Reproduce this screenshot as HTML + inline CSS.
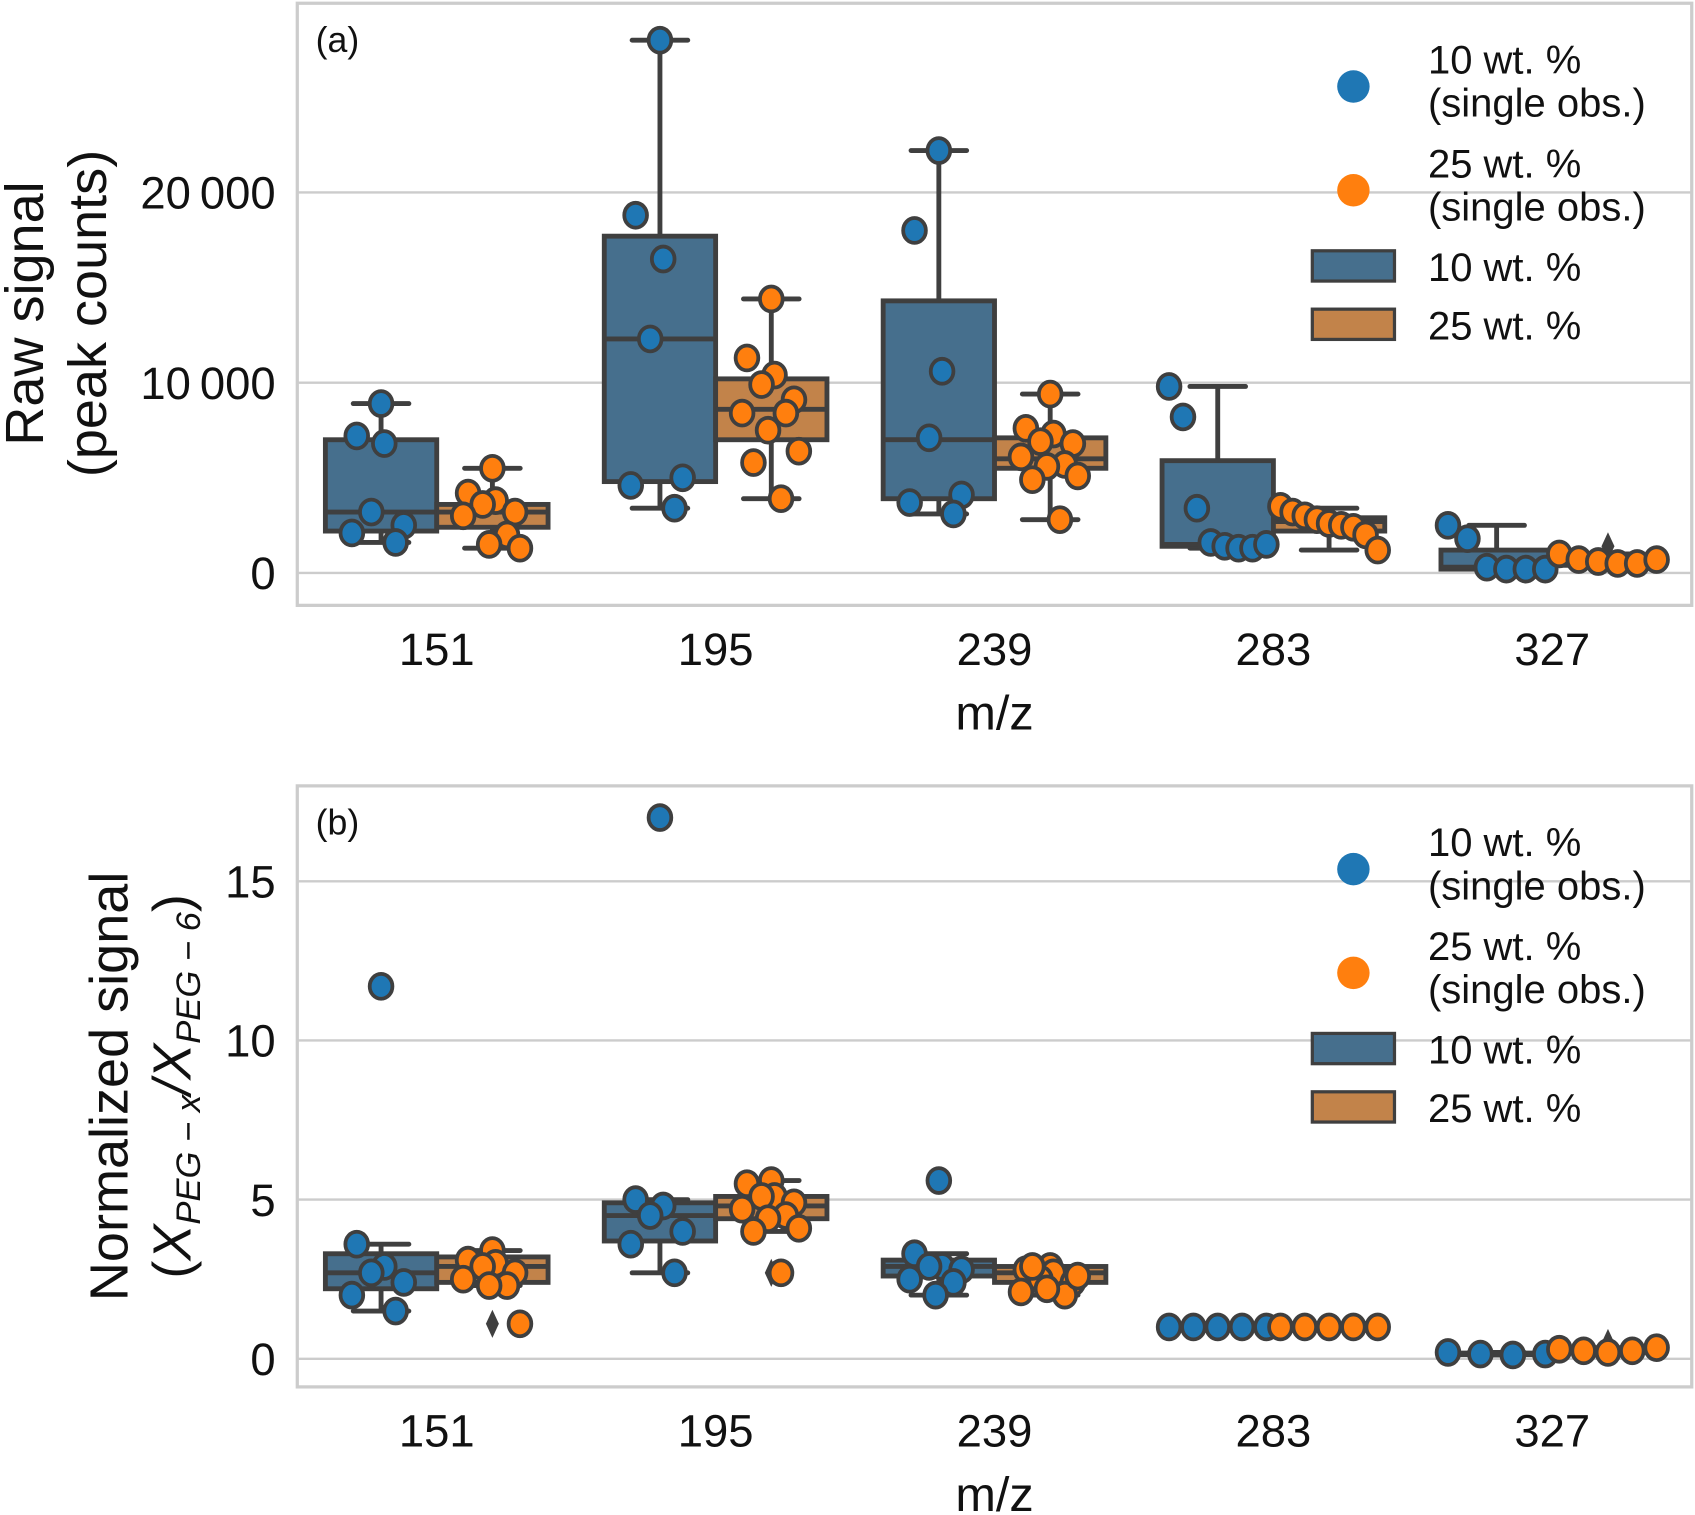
<!DOCTYPE html>
<html><head><meta charset="utf-8"><style>
html,body{margin:0;padding:0;background:#fff;}
svg{display:block;font-family:"Liberation Sans",Arial,sans-serif;}
</style></head><body>
<svg id="fig" width="1695" height="1515" viewBox="0 0 1568 1401.5" xmlns="http://www.w3.org/2000/svg"></svg>
<script>
// ---------- data ----------
const categories = ["151","195","239","283","327"];
// panel (a) raw signal, single observations
const rawBlue = [
  [8900,7200,6800,3200,2500,2100,1600],
  [28000,18800,16500,12300,5000,4600,3400],
  [22200,18000,10600,7100,4100,3700,3100],
  [9800,8200,3400,1600,1400,1300,1300,1500],
  [2500,1800,300,200,200,200]
];
const rawOrange = [
  [5500,4200,3800,3600,3200,3000,2000,1500,1300],
  [14400,11300,10400,9900,9100,8400,8400,7500,6400,5800,3900],
  [9400,7600,7300,6900,6800,6100,5700,5600,5100,4900,2800],
  [3500,3200,3000,2800,2600,2500,2400,2000,1200],
  [1000,700,600,500,500,700]
];
// box stats [whiskerLow, q1, median, q3, whiskerHigh]
const rawBoxBlue = [[1600,2200,3200,7000,8900],[3400,4800,12300,17700,28000],[3100,3900,7000,14300,22200],[1300,1400,1500,5900,9800],[200,200,300,1200,2500]];
const rawBoxOrange = [[1300,2400,3200,3600,5500],[3900,7000,8600,10200,14400],[2800,5500,6000,7100,9400],[1200,2200,2700,2900,3400],[400,400,600,800,1000]];
const rawFlierOrange = [[],[],[],[],[1400]];
const rawTicks = [0,10000,20000];
const rawTickLabels = ["0","10\u2009000","20\u2009000"];

// panel (b) normalized signal
const normBlue = [
  [11.7,3.6,2.9,2.7,2.4,2.0,1.5],
  [17.0,5.0,4.8,4.5,4.0,3.6,2.7],
  [5.6,3.3,2.9,2.9,2.8,2.5,2.4,2.0],
  [1,1,1,1,1],
  [0.2,0.15,0.12,0.15]
];
const normOrange = [
  [3.4,3.1,3.0,2.9,2.7,2.5,2.3,2.3,1.1],
  [5.6,5.5,5.1,5.1,4.9,4.7,4.5,4.4,4.1,4.0,2.7],
  [2.9,2.8,2.7,2.5,2.4,2.1,2.0,2.2,2.6,2.9],
  [1,1,1,1,1],
  [0.3,0.25,0.2,0.25,0.35]
];
const normBoxBlue = [[1.5,2.2,2.7,3.3,3.6],[2.7,3.7,4.5,4.9,5.0],[2.0,2.6,2.9,3.1,3.3],[1,1,1,1,1],[0.12,0.13,0.15,0.18,0.2]];
const normBoxOrange = [[2.3,2.4,2.9,3.2,3.4],[4.0,4.4,4.8,5.1,5.6],[2.0,2.4,2.7,2.9,2.9],[1,1,1,1,1],[0.2,0.2,0.25,0.3,0.35]];
const normFlierBlue = [[11.7],[17.0],[5.6],[],[]];
const normFlierOrange = [[1.1],[2.7],[],[],[0.5]];
const normTicks = [0,5,10,15];
const normTickLabels = ["0","5","10","15"];

// ---------- drawing ----------
const NS="http://www.w3.org/2000/svg";
const svg=document.getElementById('fig');
function mk(tag,attrs,parent){const e=document.createElementNS(NS,tag);for(const k in attrs)e.setAttribute(k,attrs[k]);(parent||svg).appendChild(e);return e;}
const L=275,R=1565,STEP=258,X0=404,BW=103;
const xCat=i=>X0+i*STEP;
const LINE="#3f3f3f";
const JIT=[0,-0.75,0.1,-0.3,0.7,-0.9,0.45,-0.1,0.85,-0.55,0.3];

function panel(cfg){
  const g=mk('g',{});
  
  
  const y=v=>cfg.y0-v*cfg.k;
  cfg.ticks.forEach((t,i)=>{
    const gl=mk('line',{x1:L,x2:R,y1:y(t),y2:y(t),stroke:"#cccccc","stroke-width":2.2},g);
    
    
    const tl=mk('text',{x:255,y:y(t)+15,"text-anchor":"end","font-size":42,fill:"#111"},g);
    tl.textContent=cfg.tickLabels[i];
    
    
  });
  const frame=mk('rect',{x:L,y:cfg.top,width:R-L,height:cfg.bot-cfg.top,fill:"none",stroke:"#cccccc","stroke-width":3},g);
  
  
  categories.forEach((c,i)=>{
    const t=mk('text',{x:xCat(i),y:cfg.bot+55,"text-anchor":"middle","font-size":42,fill:"#111"},g);
    t.textContent=c;
    
    
  });
  const xt=mk('text',{x:920,y:cfg.bot+115,"text-anchor":"middle","font-size":45,fill:"#111"},g);
  xt.textContent="m/z";
  
  
  const pl=mk('text',{x:292,y:cfg.top+45,"font-size":33,fill:"#111"},g);
  pl.textContent=cfg.label;
  
  

  function boxes(stats,off,fill,nm){
    stats.forEach((s,i)=>{
      const cx=xCat(i)+off;
      const bg=mk('g',{},g);
      
      
      const wl=BW*0.25;
      mk('line',{x1:cx,x2:cx,y1:y(s[0]),y2:y(s[1]),stroke:LINE,"stroke-width":4.5},bg);
      mk('line',{x1:cx,x2:cx,y1:y(s[3]),y2:y(s[4]),stroke:LINE,"stroke-width":4.5},bg);
      mk('line',{x1:cx-wl,x2:cx+wl,y1:y(s[0]),y2:y(s[0]),stroke:LINE,"stroke-width":4.5,"stroke-linecap":"round"},bg);
      mk('line',{x1:cx-wl,x2:cx+wl,y1:y(s[4]),y2:y(s[4]),stroke:LINE,"stroke-width":4.5,"stroke-linecap":"round"},bg);
      mk('rect',{x:cx-BW/2,y:y(s[3]),width:BW,height:Math.max(0.5,y(s[1])-y(s[3])),fill:fill,stroke:LINE,"stroke-width":4.5},bg);
      mk('line',{x1:cx-BW/2,x2:cx+BW/2,y1:y(s[2]),y2:y(s[2]),stroke:LINE,"stroke-width":4.5},bg);
    });
  }
  function fliers(arr,off,nm){
    arr.forEach((vals,i)=>vals.forEach(v=>{
      const cx=xCat(i)+off, cy=y(v);
      const p=mk('path',{d:`M${cx} ${cy-13}L${cx+6} ${cy}L${cx} ${cy+13}L${cx-6} ${cy}Z`,fill:LINE},g);
      
      
    }));
  }
  function points(arr,off,fill,nm){
    arr.forEach((vals,i)=>{
      const spread=(i>=3)?45:30;
      vals.forEach((v,j)=>{
        let jit;
        if(i>=3){ jit=(vals.length>1? j/(vals.length-1):0.5)*2*spread-spread; }
        else jit=JIT[j%JIT.length]*spread;
        const c=mk('ellipse',{cx:xCat(i)+off+jit,cy:y(v),rx:10.5,ry:11.5,fill:fill,stroke:LINE,"stroke-width":3.5},g);
        
        
      });
    });
  }
  boxes(cfg.boxB,-BW/2,"#466f8d","box-10wt");
  boxes(cfg.boxO,BW/2,"#c2834a","box-25wt");
  fliers(cfg.flB,-BW/2,"flier-10wt");
  fliers(cfg.flO,BW/2,"flier-25wt");
  points(cfg.ptB,-BW/2,"#1f77b4","point-10wt");
  points(cfg.ptO,BW/2,"#ff7f0e","point-25wt");

  const lg=mk('g',{},g);
  
  
  const o=cfg.top;
  const d1=mk('circle',{cx:1252,cy:o+77,r:15,fill:"#1f77b4"},lg);
  
  
  const d2=mk('circle',{cx:1252,cy:o+173,r:15,fill:"#ff7f0e"},lg);
  
  
  const p1=mk('rect',{x:1214,y:o+229,width:76,height:28,fill:"#466f8d",stroke:LINE,"stroke-width":3},lg);
  
  
  const p2=mk('rect',{x:1214,y:o+283,width:76,height:28,fill:"#c2834a",stroke:LINE,"stroke-width":3},lg);
  
  
  [["10 wt. %",o+65],["(single obs.)",o+105],["25 wt. %",o+161],["(single obs.)",o+201],["10 wt. %",o+257],["25 wt. %",o+311]].forEach(a=>{
    const t=mk('text',{x:1321,y:a[1],"font-size":37,fill:"#111"},lg);
    t.textContent=a[0];
    
    
  });
}

panel({name:"panel-a-raw",top:3,bot:560,y0:530,k:0.0176,ticks:rawTicks,tickLabels:rawTickLabels,label:"(a)",
  boxB:rawBoxBlue,boxO:rawBoxOrange,flB:[[],[],[],[],[]],flO:rawFlierOrange,ptB:rawBlue,ptO:rawOrange});
panel({name:"panel-b-normalized",top:727,bot:1283,y0:1257,k:29.45,ticks:normTicks,tickLabels:normTickLabels,label:"(b)",
  boxB:normBoxBlue,boxO:normBoxOrange,flB:normFlierBlue,flO:normFlierOrange,ptB:normBlue,ptO:normOrange});

function ytitle(x,cy,html,nm,size){
  const t=mk('text',{x:0,y:0,"text-anchor":"middle","font-size":size,fill:"#111",transform:`translate(${x},${cy}) rotate(-90)`});
  t.innerHTML=html;
  
  
}
ytitle(40,290,"Raw signal","y-axis-title",50);
ytitle(98,290,"(peak counts)","y-axis-subtitle",50);
ytitle(118,1005,"Normalized signal","y-axis-title",50);
ytitle(176,1005,'(<tspan font-style="italic">X</tspan><tspan font-size="32" dy="9" font-style="italic">PEG − x</tspan><tspan dy="-9" font-style="italic">/X</tspan><tspan font-size="32" dy="9" font-style="italic">PEG − 6</tspan><tspan dy="-9">)</tspan>',"y-axis-subtitle",50);
</script>
</body></html>
